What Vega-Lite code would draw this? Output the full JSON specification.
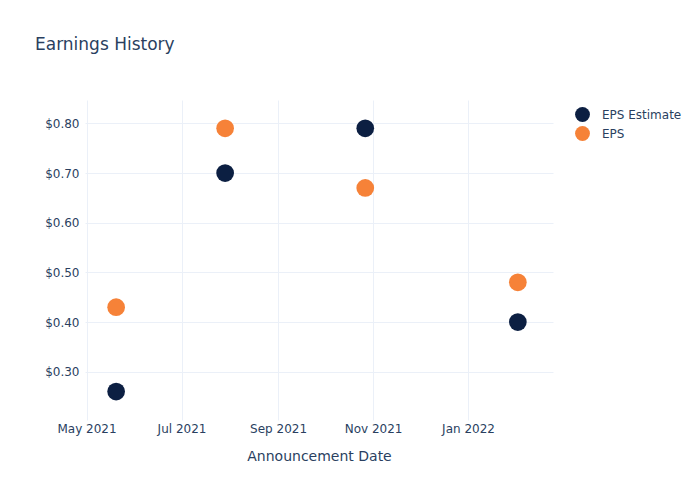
{
  "$schema": "https://vega.github.io/schema/vega-lite/v6.json",
  "width": 468,
  "height": 320,
  "autosize": {"type": "none"},
  "padding": {"left": 85, "top": 100, "right": 147, "bottom": 80},
  "background": "white",
  "title": {
    "text": "Earnings History",
    "anchor": "start",
    "frame": "group",
    "dx": -50,
    "offset": 46,
    "font": "DejaVu Sans",
    "fontSize": 17,
    "fontWeight": "normal",
    "color": "#2a3f5f"
  },
  "config": {
    "view": {"stroke": null},
    "font": "DejaVu Sans"
  },
  "data": {
    "values": [
      {"date": "2021-05-20", "series": "EPS Estimate", "value": 0.26},
      {"date": "2021-05-20", "series": "EPS", "value": 0.43},
      {"date": "2021-07-29", "series": "EPS Estimate", "value": 0.70},
      {"date": "2021-07-29", "series": "EPS", "value": 0.79},
      {"date": "2021-10-27", "series": "EPS Estimate", "value": 0.79},
      {"date": "2021-10-27", "series": "EPS", "value": 0.67},
      {"date": "2022-02-02", "series": "EPS Estimate", "value": 0.40},
      {"date": "2022-02-02", "series": "EPS", "value": 0.48}
    ]
  },
  "mark": {"type": "circle", "size": 314, "opacity": 1},
  "encoding": {
    "x": {
      "field": "date",
      "type": "temporal",
      "scale": {
        "type": "utc",
        "domain": [
          {"year": 2021, "month": 4, "date": 30, "utc": true},
          {"year": 2022, "month": 2, "date": 24, "hours": 14, "utc": true}
        ],
        "nice": false
      },
      "axis": {
        "title": "Announcement Date",
        "titleFont": "DejaVu Sans",
        "titleFontSize": 14,
        "titleFontWeight": "normal",
        "titleColor": "#2a3f5f",
        "titlePadding": 15,
        "values": [
          {"year": 2021, "month": 5, "date": 1, "utc": true},
          {"year": 2021, "month": 7, "date": 1, "utc": true},
          {"year": 2021, "month": 9, "date": 1, "utc": true},
          {"year": 2021, "month": 11, "date": 1, "utc": true},
          {"year": 2022, "month": 1, "date": 1, "utc": true}
        ],
        "format": "%b %Y",
        "labelFontSize": 12,
        "labelColor": "#2a3f5f",
        "labelPadding": 3,
        "labelFlush": false,
        "labelOverlap": false,
        "ticks": false,
        "domain": false,
        "grid": true,
        "gridColor": "#ebf0f8",
        "gridWidth": 1
      }
    },
    "y": {
      "field": "value",
      "type": "quantitative",
      "scale": {"domain": [0.2028, 0.847], "nice": false, "zero": false},
      "axis": {
        "title": null,
        "values": [0.3, 0.4, 0.5, 0.6, 0.7, 0.8],
        "format": "$.2f",
        "labelFontSize": 12,
        "labelColor": "#2a3f5f",
        "labelPadding": 6,
        "ticks": false,
        "domain": false,
        "grid": true,
        "gridColor": "#ebf0f8",
        "gridWidth": 1
      }
    },
    "color": {
      "field": "series",
      "type": "nominal",
      "scale": {
        "domain": ["EPS Estimate", "EPS"],
        "range": ["#0c1f42", "#f68238"]
      },
      "legend": {
        "title": null,
        "orient": "none",
        "legendX": 490,
        "legendY": 7,
        "padding": 0,
        "symbolType": "circle",
        "symbolSize": 220,
        "symbolOpacity": 1,
        "symbolStrokeWidth": 0,
        "labelFontSize": 12,
        "labelColor": "#2a3f5f",
        "labelOffset": 12,
        "rowPadding": 4
      }
    }
  }
}
